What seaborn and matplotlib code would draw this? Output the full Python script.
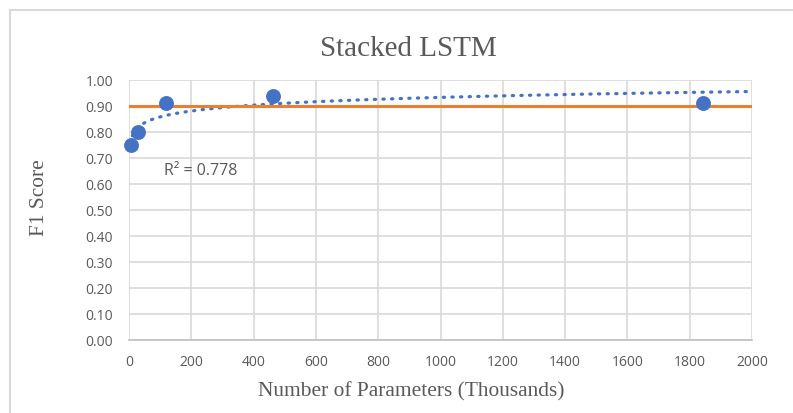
import numpy as np
import matplotlib
matplotlib.use("Agg")
import matplotlib.pyplot as plt
import seaborn as sns
import pandas as pd
from matplotlib.lines import Line2D

params_k = [6, 30, 118, 461, 1842]
f1_scores = [0.75, 0.80, 0.91, 0.94, 0.91]
threshold = 0.90
x_ticks = [0, 200, 400, 600, 800, 1000, 1200, 1400, 1600, 1800, 2000]
y_ticks = [0.0, 0.1, 0.2, 0.3, 0.4, 0.5, 0.6, 0.7, 0.8, 0.9, 1.0]
r2_label = "R² = 0.778"

sns.set_theme(style="white")
plt.rcParams['font.family'] = ['Open Sans', 'DejaVu Sans']

df = pd.DataFrame({"params": params_k, "f1": f1_scores})

W, H = 793, 414
fig = plt.figure(figsize=(W / 100, H / 100), dpi=100)
ax = fig.add_axes([129/W, 1 - 341/H, (752-129)/W, (341-81)/H])

# chart border (left and top visible)
grey = "#d9d9d9"
fig.add_artist(Line2D([9.5/W, 9.5/W], [0, 1 - 11/H], color=grey, lw=1.5, transform=fig.transFigure))
fig.add_artist(Line2D([9.5/W, 1], [1 - 11/H, 1 - 11/H], color=grey, lw=1.5, transform=fig.transFigure))

# logarithmic trendline fitted to the data
lx = np.log(df["params"].values)
a, b = np.polyfit(lx, df["f1"].values, 1)
xs = np.linspace(4, 2000, 800)
ax.plot(xs, a * np.log(xs) + b, linestyle=(0, (0.4, 2.3)), color="#4472c4",
        lw=2.3, dash_capstyle="round", zorder=3)

ax.axhline(threshold, color="#ed7d31", lw=2.2, zorder=4)

sns.scatterplot(data=df, x="params", y="f1", ax=ax, s=115, color="#4472c4",
                edgecolor="#4472c4", linewidth=0, zorder=5, clip_on=False)

ax.set_xlim(0, 2000)
ax.set_ylim(0, 1.0)
ax.set_xticks(x_ticks)
ax.set_yticks(y_ticks)
ax.set_xticklabels([str(t) for t in x_ticks])
ax.set_yticklabels([f"{t:.2f}" for t in y_ticks])
ax.tick_params(axis="both", length=0, labelsize=10, colors="#595959")
ax.tick_params(axis="x", pad=10)
ax.tick_params(axis="y", pad=11.5)
ax.grid(True, color="#d9d9d9", lw=1.2)
ax.set_axisbelow(True)
for s in ["top", "right", "left"]:
    ax.spines[s].set_visible(False)
ax.spines["bottom"].set_color("#bfbfbf")
ax.spines["bottom"].set_linewidth(1.2)

ax.set_xlabel("")
ax.set_ylabel("")
serif = "Liberation Serif"
fig.text(411/W, 1 - 392/H, "Number of Parameters (Thousands)", fontfamily=serif,
         fontsize=15.4, color="#595959", ha="center", va="center")
fig.text(40/W, 1 - 198/H, "F1 Score", fontfamily=serif, fontsize=15.4,
         color="#595959", ha="center", va="center", rotation=90)
fig.text(408/W, 1 - 49/H, "Stacked LSTM", fontfamily=serif,
         fontsize=21, color="#595959", ha="center", va="center")

ax.text(112, 0.655, r2_label, fontsize=11.5, color="#595959", ha="left", va="center")

fig.savefig("out.png", dpi=100)
